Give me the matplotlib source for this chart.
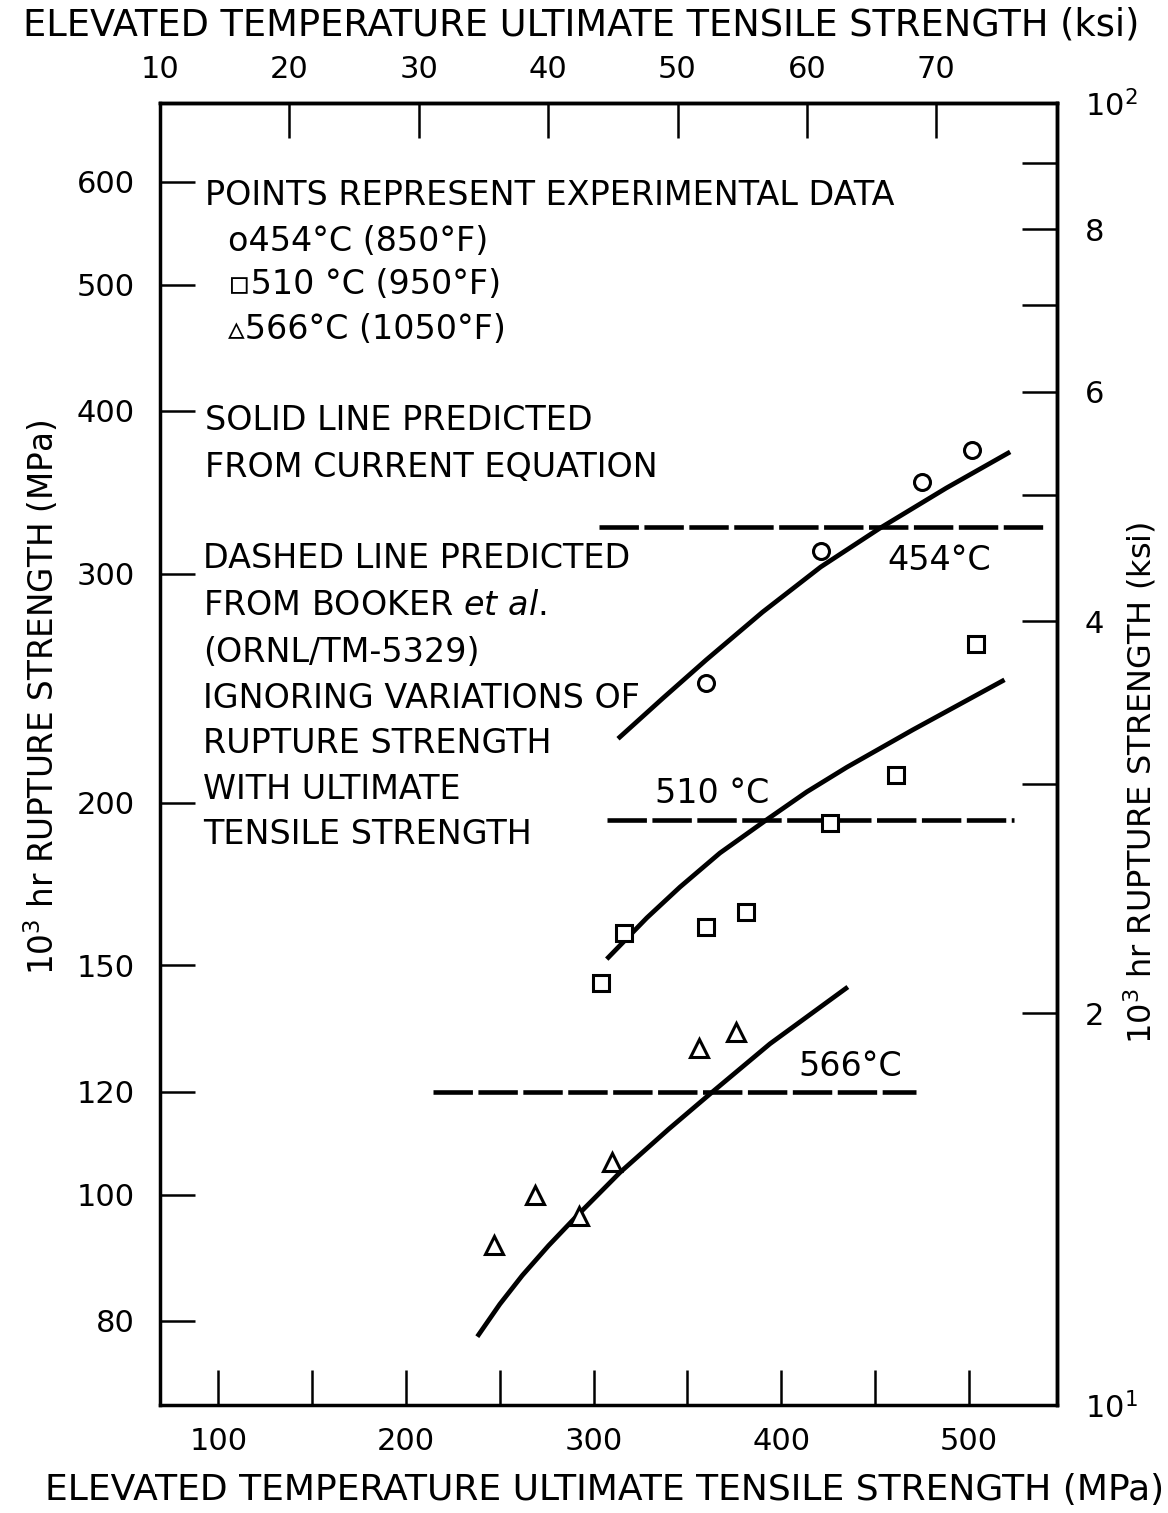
import matplotlib
matplotlib.use("Agg")
import matplotlib.pyplot as plt
from matplotlib.ticker import NullLocator, NullFormatter

KSI = 6.894757  # MPa per ksi

# experimental points: UTS (MPa) vs 10^3 hr rupture strength (MPa)
uts_454 = [360, 421, 475, 501.5]
rup_454 = [247, 312, 353, 373]
uts_510 = [304, 316, 360, 381, 426, 461, 504]
rup_510 = [145.5, 159, 160.5, 165, 193, 210, 265]
uts_566 = [247, 269, 292, 310, 356, 376]
rup_566 = [91.5, 100, 96.3, 106, 129.6, 133.3]

# solid lines, current equation
eq_uts_454 = [313, 337, 360, 390, 421, 452.5, 488, 522]
eq_rup_454 = [224, 240.7, 257.5, 280.2, 303.5, 325, 349, 372]
eq_uts_510 = [307, 328.4, 346, 367.3, 392, 413.6, 435, 470, 519]
eq_rup_510 = [151.7, 163.2, 172.3, 183, 194, 203.9, 213, 227.5, 248.6]
eq_uts_566 = [238, 250, 262, 276, 291, 314, 340, 362, 394, 435.5]
eq_rup_566 = [77.8, 82.4, 86.7, 91.4, 96.3, 104.0, 112.3, 119.5, 130.6, 144.4]

# dashed lines, Booker et al. (no dependence on UTS)
booker_temp = ["454°C", "510 °C", "566°C"]
booker_rup = [325.7, 194.0, 120.0]
booker_x0 = [303, 307, 214.5]
booker_x1 = [540, 524, 472]
label_x = [484, 363, 437]
label_y = [306.8, 203.2, 125.4]

left_ticks = [80, 100, 120, 150, 200, 300, 400, 500, 600]
bottom_ticks = [100, 150, 200, 250, 300, 350, 400, 450, 500]
bottom_labels = ["100", "", "200", "", "300", "", "400", "", "500"]
top_ticks = [10, 20, 30, 40, 50, 60, 70]
right_ticks = [10, 20, 30, 40, 50, 60, 70, 80, 90, 100]
right_labels = ["$10^1$", "2", "", "4", "", "6", "", "8", "", "$10^2$"]

plt.rcParams["font.family"] = "DejaVu Sans"
plt.rcParams["mathtext.fontset"] = "dejavusans"

fig = plt.figure(figsize=(11.68, 15.13), dpi=100)
ax = fig.add_axes([0.137, 0.0714, 0.768, 0.8605])
ax.set_yscale("log")
ax.set_xlim(68.9, 547)
ax.set_ylim(10 * KSI, 100 * KSI)

tick_kw = dict(direction="in", length=25, width=1.8, labelsize=22)
ax.set_xticks(bottom_ticks, labels=bottom_labels)
ax.set_yticks(left_ticks, labels=[str(v) for v in left_ticks])
ax.yaxis.set_minor_locator(NullLocator())
ax.yaxis.set_minor_formatter(NullFormatter())
ax.tick_params(axis="x", pad=16, **tick_kw)
ax.tick_params(axis="y", pad=18, **tick_kw)
for s in ax.spines.values():
    s.set_linewidth(2.5)

top = ax.secondary_xaxis("top", functions=(lambda x: x / KSI, lambda x: x * KSI))
top.set_xticks(top_ticks, labels=[str(v) for v in top_ticks])
top.tick_params(pad=14, **tick_kw)
top.spines["top"].set_linewidth(2.5)

right = ax.secondary_yaxis("right", functions=(lambda y: y / KSI, lambda y: y * KSI))
right.set_yticks(right_ticks, labels=right_labels)
right.yaxis.set_minor_locator(NullLocator())
right.yaxis.set_minor_formatter(NullFormatter())
right.tick_params(pad=20, **tick_kw)
right.spines["right"].set_linewidth(2.5)

# current equation
for xs, ys in [(eq_uts_454, eq_rup_454), (eq_uts_510, eq_rup_510), (eq_uts_566, eq_rup_566)]:
    ax.plot(xs, ys, color="black", lw=3.4, solid_capstyle="butt",
            solid_joinstyle="round")

# Booker et al.
for lvl, x0, x1 in zip(booker_rup, booker_x0, booker_x1):
    ax.plot([x0, x1], [lvl, lvl], color="black", lw=3.3, dashes=(8.6, 1.2),
            dash_capstyle="butt")

for t, x, y in zip(booker_temp, label_x, label_y):
    ax.text(x, y, t, fontsize=24, ha="center", va="center")

mk = dict(linestyle="none", markerfacecolor="white", markeredgecolor="black",
          markeredgewidth=2.2)
ax.plot(uts_454, rup_454, marker="o", markersize=11.5, **mk)
ax.plot(uts_510, rup_510, marker="s", markersize=11.5, **mk)
ax.plot(uts_566, rup_566, marker="^", markersize=12.5, **mk)

notes = [
    (0.050, 0.929, "POINTS REPRESENT EXPERIMENTAL DATA"),
    (0.076, 0.894, "o454°C (850°F)"),
    (0.076, 0.861, "▫510 °C (950°F)"),
    (0.076, 0.826, "▵566°C (1050°F)"),
    (0.050, 0.7565, "SOLID LINE PREDICTED"),
    (0.050, 0.7197, "FROM CURRENT EQUATION"),
    (0.048, 0.6505, "DASHED LINE PREDICTED"),
    (0.048, 0.6144, r"FROM BOOKER $\it{et\ al.}$"),
    (0.048, 0.5783, "(ORNL/TM-5329)"),
    (0.048, 0.543, "IGNORING VARIATIONS OF"),
    (0.048, 0.5077, "RUPTURE STRENGTH"),
    (0.048, 0.4724, "WITH ULTIMATE"),
    (0.048, 0.4378, "TENSILE STRENGTH"),
]
for x, y, t in notes:
    ax.text(x, y, t, transform=ax.transAxes, fontsize=24, ha="left", va="center")

fig.text(0.498, 0.9835, "ELEVATED TEMPERATURE ULTIMATE TENSILE STRENGTH (ksi)",
         fontsize=26.5, ha="center", va="center")
fig.text(0.518, 0.0152, "ELEVATED TEMPERATURE ULTIMATE TENSILE STRENGTH (MPa)",
         fontsize=26, ha="center", va="center")
fig.text(0.036, 0.539, r"$10^3$ hr RUPTURE STRENGTH (MPa)", fontsize=23.5,
         rotation=90, ha="center", va="center")
fig.text(0.976, 0.4825, r"$10^3$ hr RUPTURE STRENGTH (ksi)", fontsize=23,
         rotation=90, ha="center", va="center")

fig.savefig("out.png", dpi=100)
